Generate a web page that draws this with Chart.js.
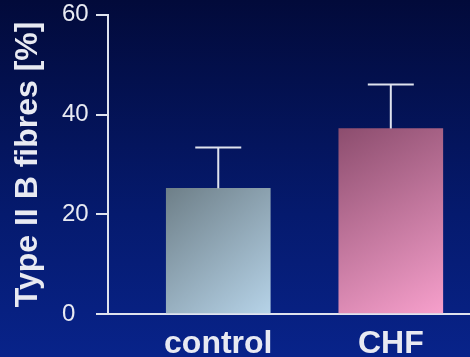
<!DOCTYPE html>
<html>
<head>
<meta charset="utf-8">
<script src="https://cdn.jsdelivr.net/npm/chart.js@4/dist/chart.umd.min.js"></script>
<style>
  html, body { margin: 0; padding: 0; }
  body { width: 470px; height: 357px; overflow: hidden; background: linear-gradient(180deg, #020a3a 0%, #051a6e 60%, #08238a 100%); }
  #wrap { width: 470px; height: 357px; }
</style>
</head>
<body>
<div id="wrap"><canvas id="c"></canvas></div>
<script>
// Data
const groups = ['control', 'CHF'];
const means = [25.2, 37.2];
const errUp = [33.4, 46];
const yTicks = [0, 20, 40, 60];
const yTitle = 'Type II B fibres [%]';

const axisCol = '#dfe3ee';
const textCol = '#e8eaf2';
const BAR_W = 104;

// bar gradients, top-left dark -> bottom-right light
const barGrad = [
  ['#6e7f88', '#b6d3e8'],
  ['#8c4d6e', '#f7a0cc']
];

function fillFor(ctx) {
  const chart = ctx.chart;
  const i = ctx.dataIndex;
  const xs = chart.scales.x, ys = chart.scales.y;
  if (!xs || !ys || i == null) return barGrad[0][1];
  const x = xs.getPixelForValue(i + 1);
  const y = ys.getPixelForValue(means[i]);
  const base = ys.getPixelForValue(0);
  if (!isFinite(x) || !isFinite(y)) return barGrad[i][1];
  const g = chart.ctx.createLinearGradient(x - BAR_W / 2, y, x + BAR_W / 2, base);
  g.addColorStop(0, barGrad[i][0]);
  g.addColorStop(1, barGrad[i][1]);
  return g;
}

// whisker on top of each bar + rotated y title
const errPlugin = {
  id: 'errBars',
  afterDatasetsDraw(chart) {
    const c = chart.ctx;
    const xs = chart.scales.x, ys = chart.scales.y;
    c.save();
    c.strokeStyle = axisCol;
    c.lineWidth = 2;
    means.forEach((m, i) => {
      const px = xs.getPixelForValue(i + 1);
      const top = ys.getPixelForValue(errUp[i]);
      const bot = ys.getPixelForValue(m);
      c.beginPath();
      c.moveTo(px, bot);
      c.lineTo(px, top);
      c.moveTo(px - 23, top);
      c.lineTo(px + 23, top);
      c.stroke();
    });
    c.restore();
  },
  afterDraw(chart) {
    const c = chart.ctx;
    const a = chart.chartArea;
    c.save();
    c.translate(28, (a.top + a.bottom) / 2);
    c.rotate(-Math.PI / 2);
    c.fillStyle = textCol;
    c.font = 'bold 32px "Liberation Sans", Arial';
    c.textAlign = 'center';
    c.textBaseline = 'middle';
    c.fillText(yTitle, 0, 0);
    c.restore();
  }
};

new Chart(document.getElementById('c'), {
  type: 'bar',
  data: {
    datasets: [{
      data: means.map((v, i) => ({ x: i + 1, y: v })),
      backgroundColor: fillFor,
      borderWidth: 0,
      barThickness: BAR_W
    }]
  },
  plugins: [errPlugin],
  options: {
    responsive: true,
    maintainAspectRatio: false,
    animation: false,
    layout: { padding: { top: 14, right: 0, left: 62, bottom: 0 } },
    plugins: { legend: { display: false }, tooltip: { enabled: false } },
    scales: {
      x: {
        type: 'linear',
        offset: false,
        min: 0.361,
        max: 2.459,
        afterBuildTicks: s => { s.ticks = groups.map((g, i) => ({ value: i + 1 })); },
        afterFit: s => { s.height = 43; },
        grid: { display: false, drawTicks: false },
        border: { display: true, color: axisCol, width: 2 },
        ticks: {
          autoSkip: false,
          maxRotation: 0,
          padding: 11,
          color: textCol,
          font: { family: 'Liberation Sans, Arial', size: 32, weight: 'bold' },
          callback: v => groups[v - 1] || ''
        }
      },
      y: {
        min: 0,
        max: 60,
        afterBuildTicks: s => { s.ticks = yTicks.map(v => ({ value: v })); },
        afterFit: s => { s.width = 46; },
        grid: { drawOnChartArea: false, drawTicks: true, tickLength: 12, color: axisCol, lineWidth: 2 },
        border: { display: true, color: axisCol, width: 2 },
        ticks: {
          crossAlign: 'far',
          padding: 4,
          color: textCol,
          font: { family: 'Liberation Sans, Arial', size: 24, lineHeight: 0.9 }
        }
      }
    }
  }
});
</script>
</body>
</html>
